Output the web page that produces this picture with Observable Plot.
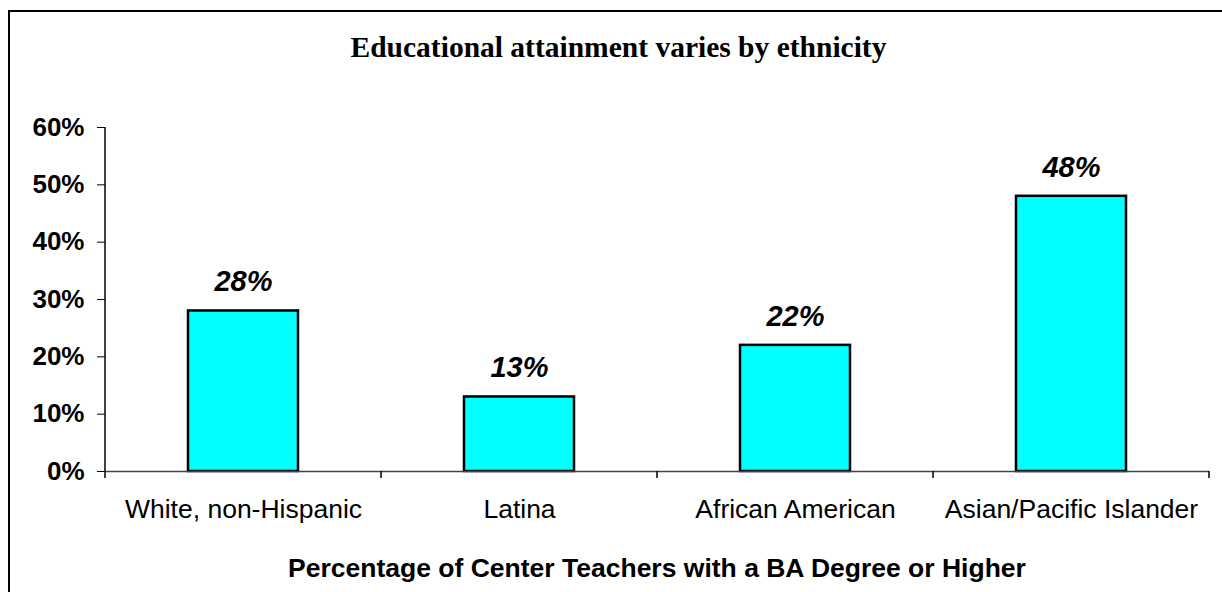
<!DOCTYPE html>
<html>
<head>
<meta charset="utf-8">
<script src="https://cdn.jsdelivr.net/npm/d3@7"></script>
<script src="https://cdn.jsdelivr.net/npm/@observablehq/plot@0.6"></script>
<style>
  html, body { margin: 0; padding: 0; background: #fff; }
  #wrap { position: relative; width: 1222px; height: 592px; overflow: hidden; }
  #frame { position: absolute; left: 8px; top: 10px; width: 1300px; height: 700px;
           border-left: 2px solid #000; border-top: 2px solid #000; }
  #title { position: absolute; left: 9px; width: 1219px; top: 33px; text-align: center; line-height: 1;
           font-family: "Liberation Serif", "Times New Roman", serif; font-weight: bold; font-size: 29.5px; }
  #xtitle { position: absolute; left: 105px; width: 1104px; top: 555px; text-align: center; line-height: 1;
            font-family: "Liberation Sans", Arial, sans-serif; font-weight: bold; font-size: 26.5px; }
  #chart { position: absolute; left: 0; top: 0; }
</style>
</head>
<body>
<div id="wrap">
  <div id="frame"></div>
  <div id="chart"></div>
  <div id="title">Educational attainment varies by ethnicity</div>
  <div id="xtitle">Percentage of Center Teachers with a BA Degree or Higher</div>
</div>
<script>
const categories = ["White, non-Hispanic", "Latina", "African American", "Asian/Pacific Islander"];
const values = [0.28, 0.13, 0.22, 0.48];
const yTicks = [0, 0.1, 0.2, 0.3, 0.4, 0.5, 0.6];

const data = categories.map((c, i) => ({category: c, value: values[i]}));
const font = '"Liberation Sans", Arial, sans-serif';

const plot = Plot.plot({
  width: 1222,
  height: 592,
  marginLeft: 105,
  marginRight: 13,
  marginTop: 127,
  marginBottom: 121,
  style: {fontFamily: font, background: "transparent", overflow: "visible"},
  x: {domain: categories, paddingInner: 0.6, paddingOuter: 0.3, label: null},
  y: {domain: [0, 0.6], label: null},
  marks: [
    Plot.axisY({ticks: yTicks, tickFormat: d3.format(".0%"), tickSize: 8, tickPadding: 13,
      fontSize: 26, fontWeight: "bold", fill: "#000", stroke: "#000", strokeOpacity: 1, label: null}),
    Plot.axisX({tickSize: 0, tickPadding: 28, fontSize: 26.5, fill: "#000", label: null}),
    Plot.barY(data, {x: "category", y: "value", fill: "#00FFFF", stroke: "#000", strokeWidth: 2.5}),
    Plot.ruleY([0], {stroke: "#444", strokeWidth: 1.5}),
    Plot.text(data, {x: "category", y: "value", text: d => d3.format(".0%")(d.value),
      dy: -29, fontSize: 29, fontWeight: "bold", fontStyle: "italic", fill: "#000"})
  ]
});
document.getElementById("chart").appendChild(plot);

// Y axis line and x band-boundary ticks derived from the scales
const xs = plot.scale("x");
const ys = plot.scale("y");
const svg = d3.select(plot);
const y0 = ys.apply(0), y1 = ys.apply(0.6);
const step = xs.step, bw = xs.bandwidth;
const first = xs.apply(categories[0]) + bw / 2 - step / 2;
const bounds = d3.range(categories.length + 1).map(i => first + i * step);
svg.append("line").attr("x1", bounds[0]).attr("x2", bounds[0]).attr("y1", y1).attr("y2", y0)
  .attr("stroke", "#000").attr("stroke-width", 1.5);
svg.append("g").selectAll("line").data(bounds).join("line")
  .attr("x1", d => d).attr("x2", d => d).attr("y1", y0).attr("y2", y0 + 7)
  .attr("stroke", "#000").attr("stroke-width", 1.5);
</script>
</body>
</html>
